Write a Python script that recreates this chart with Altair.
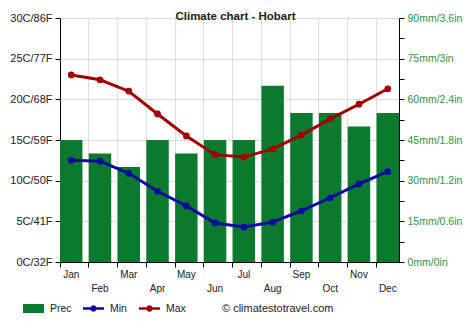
import altair as alt
import pandas as pd

# Monthly climate normals for Hobart
months = ["Jan", "Feb", "Mar", "Apr", "May", "Jun", "Jul", "Aug", "Sep", "Oct", "Nov", "Dec"]
prec_mm = [45, 40, 35, 45, 40, 45, 45, 65, 55, 55, 50, 55]
t_min = [12.5, 12.4, 10.9, 8.7, 6.9, 4.8, 4.3, 4.9, 6.3, 7.9, 9.6, 11.1]
t_max = [23.0, 22.4, 21.0, 18.2, 15.5, 13.2, 12.9, 13.9, 15.6, 17.6, 19.4, 21.3]

# Axis ticks and their labels
temp_ticks = [0, 5, 10, 15, 20, 25, 30]
temp_labels = ["0C/32F", "5C/41F", "10C/50F", "15C/59F", "20C/68F", "25C/77F", "30C/86F"]
prec_ticks = [0, 7.5, 15, 22.5, 30, 37.5, 45, 52.5, 60, 67.5, 75, 82.5, 90]
prec_labels = ["0mm/0in", "15mm/0.6in", "30mm/1.2in", "45mm/1.8in",
               "60mm/2.4in", "75mm/3in", "90mm/3.6in"]

GREEN = "#0b7a2f"
BLUE = "#0a0a9c"
RED = "#a00000"
FONT = "Liberation Sans"

prec_df = pd.DataFrame({"month": months, "prec": prec_mm, "series": ["Prec"] * 12})
temp_df = pd.DataFrame({
    "month": months * 2,
    "temp": t_min + t_max,
    "series": ["Min"] * 12 + ["Max"] * 12,
})
credit_df = pd.DataFrame({"t": ["\u00a9 climatestotravel.com"]})

# Alternate month labels onto a second row
second_row = "[" + ",".join("'%s'" % m for m in months[1::2]) + "]"
x_axis = alt.Axis(
    title=None, bandPosition=0, grid=True, gridColor="#dddddd",
    domainColor="#000000", tickColor="#000000", tickSize=5,
    labelFont=FONT, labelFontSize=10, labelColor="#222222", labelPadding=2,
    labelAngle=0, labelOverlap=False, labelLineHeight=14,
    labelExpr="indexof(%s, datum.value) >= 0 ? ['', datum.value] : datum.value" % second_row,
)
x_enc = alt.X("month:N", sort=months,
              scale=alt.Scale(domain=months, paddingInner=0.22, paddingOuter=0),
              axis=x_axis)

temp_label_arr = "[" + ",".join("'%s'" % s for s in temp_labels) + "]"
left_axis = alt.Axis(
    title=None, orient="left", values=temp_ticks, grid=True, gridColor="#dddddd",
    domainColor="#000000", tickColor="#000000", tickSize=5,
    labelFont=FONT, labelFontSize=11, labelColor="#222222", labelPadding=3,
    labelExpr="%s[round(datum.value / 5)]" % temp_label_arr,
)
prec_label_arr = "[" + ",".join("'%s'" % s for s in prec_labels) + "]"
right_axis = alt.Axis(
    title=None, orient="right", values=prec_ticks, grid=False,
    domainColor="#000000", tickColor="#000000", tickSize=5,
    labelFont=FONT, labelFontSize=10.5, labelColor="#2e9447", labelPadding=3,
    labelExpr="datum.value %% 15 == 0 ? %s[round(datum.value / 15)] : ''" % prec_label_arr,
)

RECT_SYMBOL = "M-1,-0.43L1,-0.43L1,0.43L-1,0.43Z"
LINE_DOT_SYMBOL = ("M-1,-0.12L1,-0.12L1,0.12L-1,0.12Z "
                   "M-0.3,0A0.3,0.3,0,1,1,0.3,0A0.3,0.3,0,1,1,-0.3,0Z")

bars = alt.Chart(prec_df).mark_bar().encode(
    x=x_enc,
    y=alt.Y("prec:Q", scale=alt.Scale(domain=[0, 90], nice=False, zero=True), axis=right_axis),
    color=alt.Color("series:N", scale=alt.Scale(domain=["Prec"], range=[GREEN]),
                    legend=alt.Legend(orient="none", legendX=-37, legendY=280, title=None,
                                      direction="horizontal", symbolType=RECT_SYMBOL,
                                      symbolSize=441, symbolStrokeWidth=0, labelOffset=6,
                                      labelFont=FONT, labelFontSize=10.5, labelColor="#222222")),
)

temp_y = alt.Y("temp:Q", scale=alt.Scale(domain=[0, 30], nice=False, zero=True), axis=left_axis)

temp_legend = alt.Legend(orient="none", legendX=23, legendY=280, title=None,
                         direction="horizontal", symbolType=LINE_DOT_SYMBOL,
                         symbolSize=441, symbolStrokeWidth=0, labelOffset=6,
                         columnPadding=12,
                         labelFont=FONT, labelFontSize=10.5, labelColor="#222222")
temp_scale = alt.Scale(domain=["Min", "Max"], range=[BLUE, RED])

lines = alt.Chart(temp_df).mark_line(strokeWidth=3).encode(
    x=x_enc, y=temp_y,
    stroke=alt.Stroke("series:N", scale=temp_scale, legend=temp_legend),
)
points = alt.Chart(temp_df).mark_circle(size=45, opacity=1).encode(
    x=x_enc, y=temp_y,
    fill=alt.Fill("series:N", scale=temp_scale, legend=temp_legend),
)

credit = alt.Chart(credit_df).mark_text(
    align="left", baseline="middle", font=FONT, fontSize=11, color="#222222"
).encode(x=alt.value(162), y=alt.value(291), text="t:N")

temps = alt.layer(lines, points)

chart = alt.layer(bars, temps, credit).resolve_scale(y="independent").properties(
    width=339,
    height=244,
    autosize=alt.AutoSizeParams(type="none"),
    padding={"left": 60, "top": 18, "right": 75, "bottom": 69},
    title=alt.TitleParams("Climate chart - Hobart", font=FONT, fontSize=11.5, fontWeight="bold",
                          color="#222222", anchor="middle", baseline="bottom", offset=-21, dx=6),
).configure_view(stroke="transparent").configure(background="white")

chart.save("out.html", embed_options={"renderer": "svg", "actions": False})
